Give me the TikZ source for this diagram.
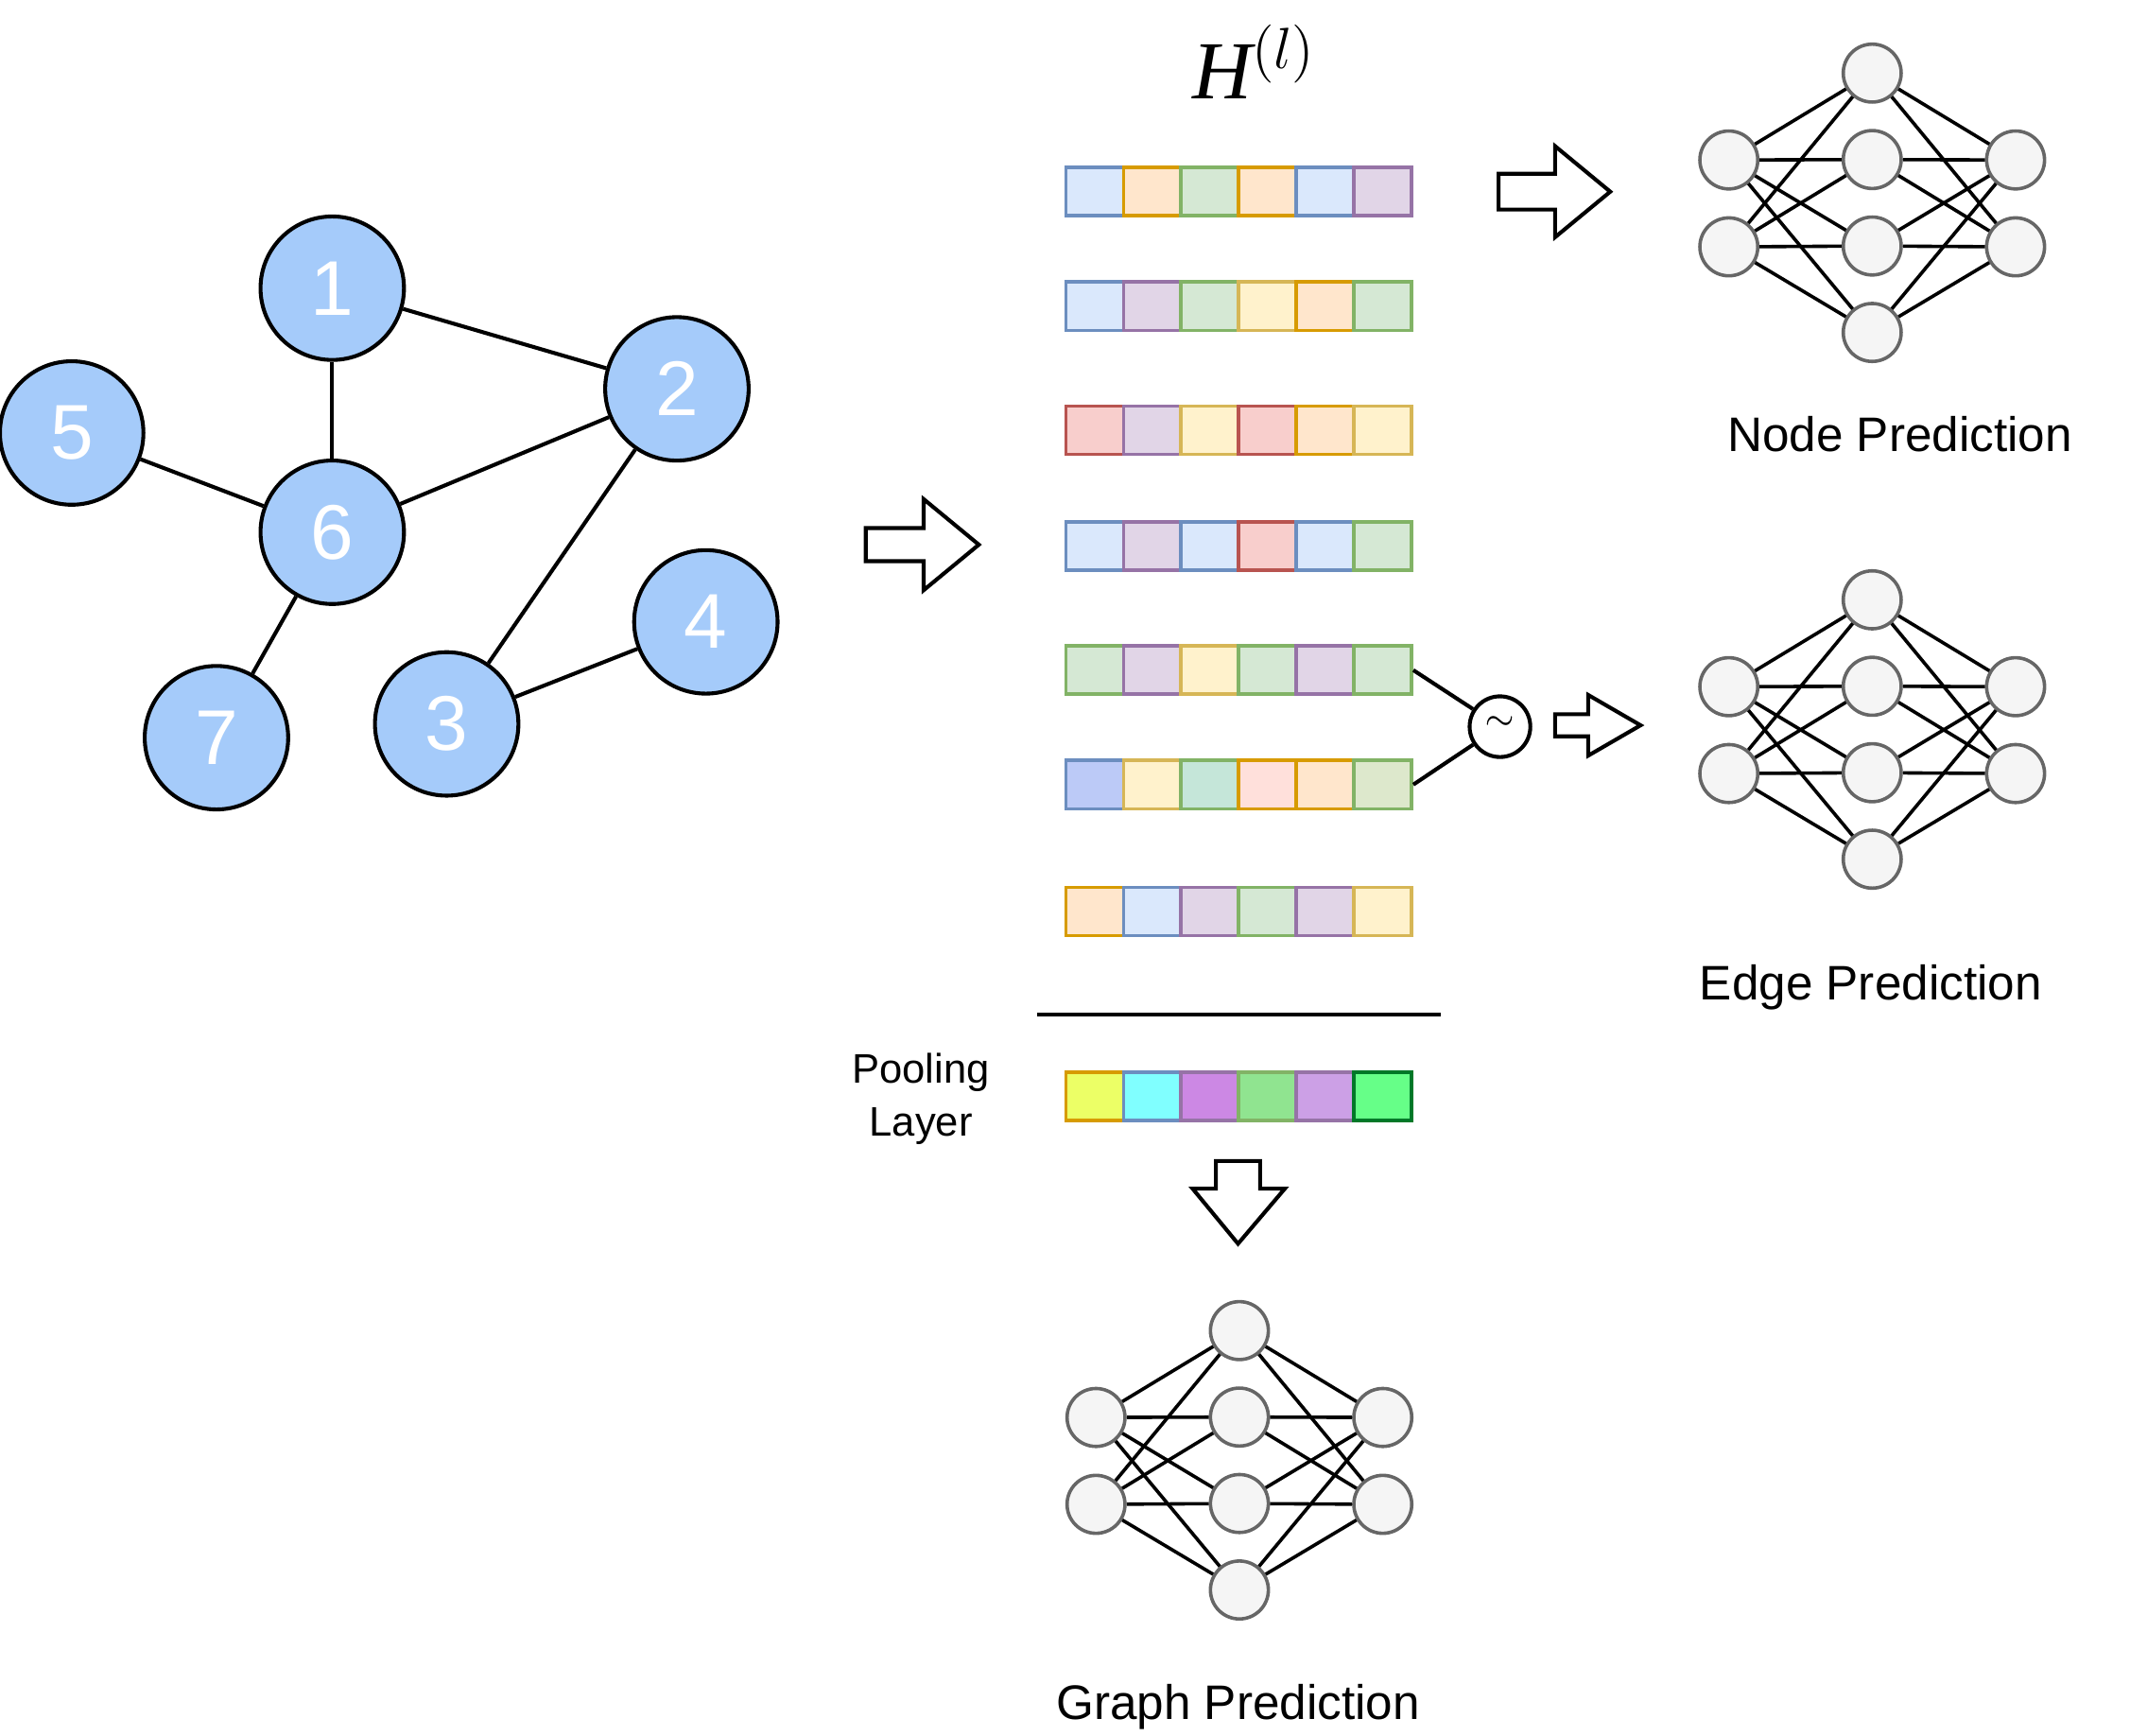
\documentclass[tikz,border=0pt]{standalone}
\usepackage{fontspec}
\setmainfont{Liberation Sans}
\newfontfamily\serifH{Liberation Serif}
\begin{document}
\definecolor{fB}{HTML}{DAE8FC}\definecolor{sB}{HTML}{6C8EBF}
\definecolor{fO}{HTML}{FFE6CC}\definecolor{sO}{HTML}{D79B00}
\definecolor{fG}{HTML}{D5E8D4}\definecolor{sG}{HTML}{82B366}
\definecolor{fY}{HTML}{FFF2CC}\definecolor{sY}{HTML}{D6B656}
\definecolor{fP}{HTML}{E1D5E7}\definecolor{sP}{HTML}{9673A6}
\definecolor{fR}{HTML}{F8CECC}\definecolor{sR}{HTML}{B85450}
\definecolor{gnode}{HTML}{A5CBFA}
\begin{tikzpicture}[x=0.01cm,y=-0.01cm,
  gn/.style={circle,draw=black,line width=0.8pt,fill=gnode,minimum size=1.04cm,inner sep=0pt,text=white,font=\fontsize{16}{18}\selectfont},
  nn/.style={circle,draw=black!60,line width=0.7pt,fill=black!4,minimum size=0.42cm,inner sep=0pt},
  cell/.style={draw,line width=0.7pt,minimum width=0.418cm,minimum height=0.35cm,inner sep=0pt},
  B/.style={cell,fill=fB,draw=sB},O/.style={cell,fill=fO,draw=sO},G/.style={cell,fill=fG,draw=sG},
  Y/.style={cell,fill=fY,draw=sY},P/.style={cell,fill=fP,draw=sP},R/.style={cell,fill=fR,draw=sR},
  X1/.style={cell,fill={rgb,255:red,188;green,202;blue,247},draw=sB},
  X2/.style={cell,fill={rgb,255:red,197;green,230;blue,217},draw=sG},
  X3/.style={cell,fill={rgb,255:red,255;green,224;blue,219},draw=sO},
  X4/.style={cell,fill={rgb,255:red,221;green,232;blue,204},draw=sG},
  Q1/.style={cell,fill={rgb,255:red,236;green,255;blue,102},draw=sO},
  Q2/.style={cell,fill={rgb,255:red,128;green,255;blue,255},draw=sB},
  Q3/.style={cell,fill={rgb,255:red,204;green,136;blue,228},draw=sP},
  Q4/.style={cell,fill={rgb,255:red,144;green,228;blue,144},draw=sG},
  Q5/.style={cell,fill={rgb,255:red,204;green,160;blue,230},draw=sP},
  Q6/.style={cell,fill={rgb,255:red,102;green,255;blue,136},draw={rgb,255:red,0;green,120;blue,40}},
  blk/.style={draw=black,line width=0.8pt,fill=white},
  lbl/.style={font=\fontsize{10}{12}\selectfont}
]
\useasboundingbox (0,0) rectangle (1545,1259);
% graph
\node[gn] (n1) at (241,209) {1};
\node[gn] (n2) at (491,282) {2};
\node[gn] (n5) at (52,314) {5};
\node[gn] (n6) at (241,386) {6};
\node[gn] (n4) at (512,451) {4};
\node[gn] (n7) at (157,535) {7};
\node[gn] (n3) at (324,525) {3};
\foreach \a/\b in {n1/n2,n1/n6,n2/n6,n2/n3,n5/n6,n6/n7,n3/n4} \draw[line width=0.8pt] (\a) -- (\b);
% big arrow
\draw[blk] (628,383) -- (670,383) -- (670,362) -- (710,395) -- (670,428) -- (670,407) -- (628,407) -- cycle;
% H label
\node[font=\serifH\itshape\fontsize{17}{20}\selectfont] (H) at (910,45) {H$^{(l)}$};
% vectors
\newcommand\vrow[3]{\foreach \s [count=\i] in {#3}{\node[\s] (#2c\i) at (794+\i*41.8-41.8,#1) {};}}
\vrow{139}{ra}{B,O,G,O,B,P}
\vrow{222}{rb}{B,P,G,Y,O,G}
\vrow{312}{rc}{R,P,Y,R,O,Y}
\vrow{396}{rd}{B,P,B,R,B,G}
\vrow{486}{re}{G,P,Y,G,P,G}
\vrow{569}{rf}{X1,Y,X2,X3,O,X4}
\vrow{661}{rg}{O,B,P,G,P,Y}
\vrow{795}{rp}{Q1,Q2,Q3,Q4,Q5,Q6}
\coordinate (la) at (752,736); \coordinate (lb) at (1045,736);
\draw[line width=0.8pt] (la) -- (lb);
\node[font=\fontsize{8.5}{11}\selectfont,align=center] (pool) at (668,797) {Pooling\\Layer};
% tilde
\node[circle,draw,line width=0.8pt,fill=white,minimum size=0.44cm,inner sep=0pt] (sim) at (1088,527) {\raisebox{0.3ex}{\scriptsize$\sim$}};
\draw[line width=0.8pt] (rec6.east) -- (sim);
\draw[line width=0.8pt] (rfc6.east) -- (sim);
% arrows
\draw[blk] (1087,126) -- (1128,126) -- (1128,106) -- (1168,139) -- (1128,172) -- (1128,152) -- (1087,152) -- cycle;
\draw[blk] (1128,518) -- (1152,518) -- (1152,504) -- (1190,526) -- (1152,548) -- (1152,534) -- (1128,534) -- cycle;
\draw[blk] (882,842) -- (914,842) -- (914,862) -- (932,862) -- (898,902) -- (865,862) -- (882,862) -- cycle;
% networks
\newcommand\nnet[4]{%
  \node[nn] (#1i1) at (#2,#3+63) {};\node[nn] (#1i2) at (#2,#3+126) {};
  \foreach \k in {1,...,4}{\node[nn] (#1h\k) at (#2+104,#3+\k*62.7-62.7) {};}
  \node[nn] (#1o1) at (#2+208,#3+63) {};\node[nn] (#1o2) at (#2+208,#3+126) {};
  \foreach \a in {1,2}{\foreach \k in {1,...,4}{\draw[line width=0.7pt] (#1i\a) -- (#1h\k); \draw[line width=0.7pt] (#1h\k) -- (#1o\a);}}
  \node[lbl] (#1lab) at #4;}
\nnet{A}{1254}{53}{(1378,315) {Node Prediction}}
\nnet{E}{1254}{435}{(1357,716) {Edge Prediction}}
\nnet{G}{795}{965}{(898,1238) {Graph Prediction}}
\end{tikzpicture}
\end{document}
